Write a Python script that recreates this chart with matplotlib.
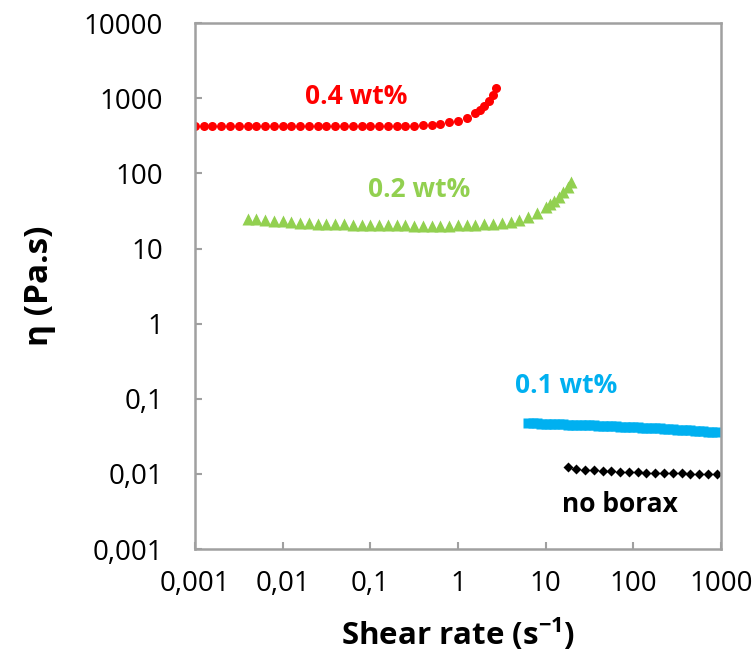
import numpy as np
import matplotlib
matplotlib.use('Agg')
import matplotlib.pyplot as plt
from matplotlib.ticker import FixedLocator, FuncFormatter, NullLocator

plt.rcParams['font.family'] = ['Open Sans', 'DejaVu Sans']
plt.rcParams['mathtext.fontset'] = 'custom'
plt.rcParams['mathtext.rm'] = 'Open Sans'
plt.rcParams['mathtext.bf'] = 'Open Sans:bold'

# 0.4 wt% borax
x04 = [0.001, 0.00126, 0.00158, 0.002, 0.00251, 0.00316, 0.00398, 0.00501, 0.00631, 0.00794,
       0.01, 0.0126, 0.0158, 0.02, 0.0251, 0.0316, 0.0398, 0.0501, 0.0631, 0.0794,
       0.1, 0.126, 0.158, 0.2, 0.251, 0.316, 0.398, 0.501, 0.631, 0.794,
       1.0, 1.26, 1.58, 1.78, 2.0, 2.24, 2.51, 2.7]
y04 = [430, 430, 428, 428, 426, 426, 425, 425, 424, 424,
       423, 423, 422, 422, 422, 421, 421, 421, 421, 422,
       422, 423, 424, 426, 428, 432, 438, 446, 458, 476,
       505, 550, 630, 700, 790, 920, 1100, 1350]

# 0.2 wt% borax
x02 = [0.00398, 0.00501, 0.00631, 0.00794, 0.01, 0.0126, 0.0158, 0.02, 0.0251, 0.0316,
       0.0398, 0.0501, 0.0631, 0.0794, 0.1, 0.126, 0.158, 0.2, 0.251, 0.316,
       0.398, 0.501, 0.631, 0.794, 1.0, 1.26, 1.58, 2.0, 2.51, 3.16,
       3.98, 5.01, 6.31, 7.94, 10, 11.2, 12.6, 14.1, 15.8, 17.8, 19.5]
y02 = [25, 24.5, 24, 23.5, 23, 22.5, 22, 21.8, 21.5, 21.3,
       21.1, 21, 20.8, 20.7, 20.6, 20.5, 20.4, 20.3, 20.3, 20.2,
       20.2, 20.2, 20.2, 20.2, 20.3, 20.4, 20.6, 20.9, 21.3, 22,
       22.8, 24, 26.5, 30, 36, 39, 43, 49, 56, 66, 76]

# 0.1 wt% borax
x01 = [6.31, 7.08, 7.94, 8.91, 10, 11.2, 12.6, 14.1, 15.8, 17.8,
       20, 22.4, 25.1, 28.2, 31.6, 35.5, 39.8, 44.7, 50.1, 56.2,
       63.1, 70.8, 79.4, 89.1, 100, 112, 126, 141, 158, 178,
       200, 224, 251, 282, 316, 355, 398, 447, 501, 562,
       631, 708, 794, 891]
y01 = [0.0480, 0.0476, 0.0472, 0.0468, 0.0465, 0.0462, 0.0460, 0.0458, 0.0456, 0.0455,
       0.0454, 0.0452, 0.0450, 0.0447, 0.0445, 0.0443, 0.0440, 0.0438, 0.0436, 0.0433,
       0.0430, 0.0428, 0.0425, 0.0422, 0.0420, 0.0417, 0.0414, 0.0411, 0.0409, 0.0406,
       0.0403, 0.0400, 0.0397, 0.0394, 0.0390, 0.0387, 0.0384, 0.0381, 0.0378, 0.0374,
       0.0370, 0.0367, 0.0364, 0.0360]

# no borax
x00 = [17.8, 22.4, 28.2, 35.5, 44.7, 56.2, 70.8, 89.1, 112, 141,
       178, 224, 282, 355, 447, 562, 708, 891]
y00 = [0.0124, 0.0118, 0.0114, 0.0112, 0.0110, 0.0108, 0.0107, 0.0106, 0.0105, 0.0104,
       0.0103, 0.0103, 0.0102, 0.0102, 0.0101, 0.0101, 0.0100, 0.0100]

xticks = [0.001, 0.01, 0.1, 1, 10, 100, 1000]
yticks = [0.001, 0.01, 0.1, 1, 10, 100, 1000, 10000]

fig = plt.figure(figsize=(7.53, 6.60), dpi=100)
ax = fig.add_axes([0.259, 0.168, 0.6985, 0.797])

ax.plot(x04, y04, 'o', color='#FF0000', ms=6.5, mec='none')
ax.plot(x02, y02, '^', color='#92D050', ms=8, mec='none')
ax.plot(x01, y01, 's', color='#00B0F0', ms=7, mec='none')
ax.plot(x00, y00, 'D', color='black', ms=5, mec='none')

ax.set_xscale('log')
ax.set_yscale('log')
ax.set_xlim(0.001, 1000)
ax.set_ylim(0.001, 10000)

fmt = FuncFormatter(lambda v, p: ('%g' % v).replace('.', ','))
ax.xaxis.set_major_locator(FixedLocator(xticks))
ax.yaxis.set_major_locator(FixedLocator(yticks))
ax.xaxis.set_minor_locator(NullLocator())
ax.yaxis.set_minor_locator(NullLocator())
ax.xaxis.set_major_formatter(fmt)
ax.yaxis.set_major_formatter(fmt)
ax.tick_params(direction='in', length=5, width=1.5, color='#A0A0A0',
               labelsize=20, pad=23)
ax.tick_params(axis='x', pad=15)

for s in ax.spines.values():
    s.set_color('#A0A0A0')
    s.set_linewidth(1.8)

ax.set_xlabel('Shear rate (s$^{\\mathbf{-1}}$)', fontsize=22.5, fontweight='bold', labelpad=13)
ax.set_ylabel('η (Pa.s)', fontsize=24, fontweight='bold', labelpad=20)

ax.text(0.0686, 832, '0.4 wt%', color='#FF0000', fontsize=19, fontweight='bold', ha='center', va='baseline')
ax.text(0.358, 47.9, '0.2 wt%', color='#92D050', fontsize=19, fontweight='bold', ha='center', va='baseline')
ax.text(17.0, 0.120, '0.1 wt%', color='#00B0F0', fontsize=19, fontweight='bold', ha='center', va='baseline')
ax.text(70.2, 0.00311, 'no borax', color='black', fontsize=19, fontweight='bold', ha='center', va='baseline')

fig.savefig('out.png', dpi=100)
